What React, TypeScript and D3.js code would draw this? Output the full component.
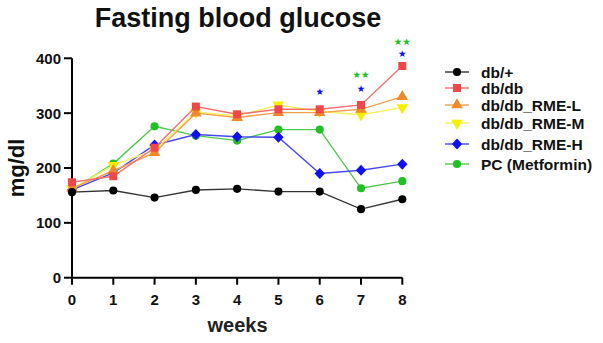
import React from "react";
import * as d3 from "d3";

const weeks = [0, 1, 2, 3, 4, 5, 6, 7, 8];
const seriesNames = ["db/+", "db/db", "db/db_RME-L", "db/db_RME-M", "db/db_RME-H", "PC (Metformin)"];
const dbPlus = [156, 159, 146, 160, 162, 157, 157, 125, 143];
const dbdb = [174, 185, 237, 312, 298, 307, 307, 315, 386];
const rmeL = [163, 195, 228, 300, 292, 301, 301, 307, 330];
const rmeM = [162, 205, 233, 302, 295, 315, 303, 297, 310];
const rmeH = [160, 191, 242, 261, 257, 256, 190, 196, 207];
const pc = [160, 208, 276, 259, 250, 270, 270, 163, 176];
const yTicks = [0, 100, 200, 300, 400];
const annotations = [
  { week: 6, value: 339, text: "★", series: 4 },
  { week: 7, value: 344, text: "★", series: 4 },
  { week: 7, value: 371, text: "★★", series: 5 },
  { week: 8, value: 408, text: "★", series: 4 },
  { week: 8, value: 430, text: "★★", series: 5 },
];

const colors = ["#000000", "#F04848", "#F08A28", "#F4F000", "#1010F0", "#22C022"];
const lineColors = ["#333333", "#F27070", "#F0A050", "#F8F060", "#4848F0", "#50C850"];
const legendY = [72, 88, 105, 123, 144, 164];

export default function App() {
  const data = [dbPlus, dbdb, rmeL, rmeM, rmeH, pc];
  const x = d3.scaleLinear().domain([0, 8]).range([72, 402.3]);
  const y = d3.scaleLinear().domain([0, 400]).range([277.7, 58.3]);
  const line = d3.line<number>().x((_, i) => x(weeks[i])).y((d) => y(d));
  const font = "Arial, 'Liberation Sans', sans-serif";
  const order = [5, 4, 3, 2, 1, 0];
  const shapePath = (i: number): string => {
    if (i === 0 || i === 5) return d3.symbol().type(d3.symbolCircle).size(52)() as string;
    if (i === 1) return d3.symbol().type(d3.symbolSquare).size(64)() as string;
    if (i === 2 || i === 3) return d3.symbol().type(d3.symbolTriangle).size(58)() as string;
    return "M0,-5.5L5.2,0L0,5.5L-5.2,0Z";
  };
  const marker = (i: number, cx: number, cy: number, key: string) => {
    const rot = i === 3 ? 180 : 0;
    return (
      <path key={key} d={shapePath(i)} fill={colors[i]}
        transform={`translate(${cx},${cy}) rotate(${rot})`} />
    );
  };
  return (
    <svg width={603} height={343} style={{ position: "absolute", left: 0, top: 0, background: "#fff" }}>
      <text x={238} y={27} textAnchor="middle" fontFamily={font} fontWeight="bold" fontSize={27} fill="#111">Fasting blood glucose</text>
      {/* axes */}
      <line x1={72} x2={72} y1={y(400)} y2={y(0) + 1} stroke="#000" strokeWidth={2} />
      <line x1={71} x2={x(8)} y1={y(0)} y2={y(0)} stroke="#000" strokeWidth={2} />
      {yTicks.map((t) => (
        <g key={"y" + t}>
          <line x1={64} x2={72} y1={y(t)} y2={y(t)} stroke="#000" strokeWidth={2} />
          <text x={61} y={y(t)} dy="0.36em" textAnchor="end" fontFamily={font} fontWeight="bold" fontSize={15} fill="#111">{t}</text>
        </g>
      ))}
      {weeks.map((w) => (
        <g key={"x" + w}>
          <line x1={x(w)} x2={x(w)} y1={y(0)} y2={y(0) + 7} stroke="#000" strokeWidth={2} />
          <text x={x(w)} y={y(0) + 27} textAnchor="middle" fontFamily={font} fontWeight="bold" fontSize={15} fill="#111">{w}</text>
        </g>
      ))}
      <text x={237.5} y={332} textAnchor="middle" fontFamily={font} fontWeight="bold" fontSize={20} fill="#222">weeks</text>
      <text transform={`translate(24,168) rotate(-90)`} textAnchor="middle" fontFamily={font} fontWeight="bold" fontSize={22} fill="#111">mg/dl</text>
      {/* series */}
      {order.map((i) => (
        <g key={"s" + i}>
          <path d={line(data[i]) as string} fill="none" stroke={lineColors[i]} strokeWidth={1.4} />
          {data[i].map((v, j) => marker(i, x(weeks[j]), y(v), `m${i}-${j}`))}
        </g>
      ))}
      {annotations.map((a, k) => (
        <text key={"a" + k} x={x(a.week)} y={y(a.value)} dy="0.35em" textAnchor="middle" fontFamily="'DejaVu Sans', sans-serif" fontSize={9.5} fill={colors[a.series]}>{a.text}</text>
      ))}
      {/* legend */}
      {seriesNames.map((n, i) => (
        <g key={"l" + i}>
          <line x1={445} x2={469} y1={legendY[i]} y2={legendY[i]} stroke={lineColors[i]} strokeWidth={1.4} />
          {marker(i, 457, legendY[i], "lm" + i)}
          <text x={481} y={legendY[i]} dy="0.36em" fontFamily={font} fontWeight="bold" fontSize={15.5} fill="#111">{n}</text>
        </g>
      ))}
    </svg>
  );
}
